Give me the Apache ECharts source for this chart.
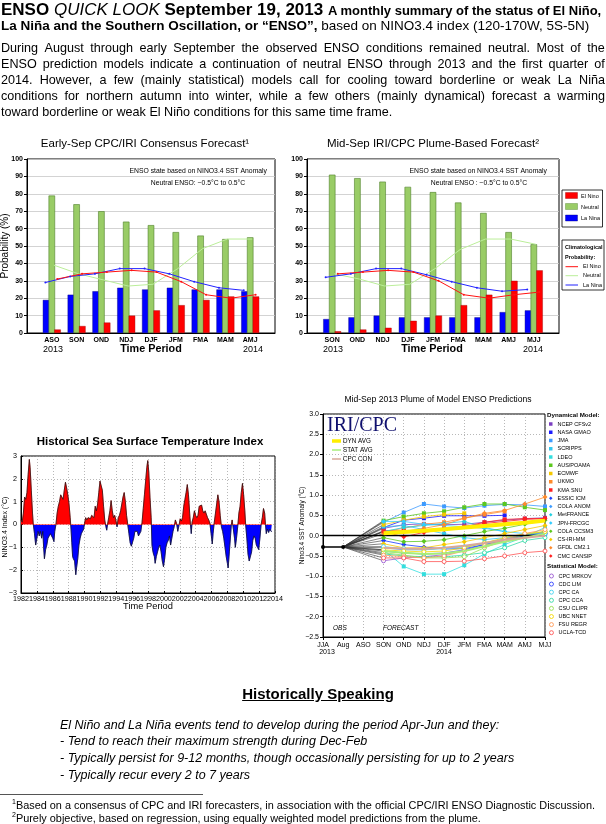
<!DOCTYPE html>
<html><head><meta charset="utf-8"><title>ENSO Quick Look</title>
<script src="https://cdn.jsdelivr.net/npm/echarts@6/dist/echarts.min.js"></script>
<style>
html,body{margin:0;padding:0;background:#fff;}
body{width:606px;height:824px;position:relative;overflow:hidden;font-family:"Liberation Sans",Arial,Helvetica,sans-serif;color:#000;}
#chart{position:absolute;left:0;top:0;width:606px;height:824px;}
.t{position:absolute;white-space:nowrap;z-index:2;}
.it{position:absolute;left:60px;font-size:12.5px;font-style:italic;line-height:16px;white-space:nowrap;z-index:2;}
.jl{position:absolute;left:1px;width:604px;height:16px;line-height:16px;font-size:12.6px;display:flex;justify-content:space-between;white-space:nowrap;z-index:2;}
.jl.last{justify-content:flex-start;}
</style></head>
<body>
<div id="chart"></div>
<div class="t" style="left:1px;top:0px;font-size:17px;line-height:19px;"><b>ENSO</b> <i>QUICK LOOK</i> <b>September 19, 2013</b> <b style="font-size:13px;">A monthly summary of the status of El Niño,</b></div>
<div class="t" style="left:1px;top:18px;font-size:13.5px;line-height:16px;"><b>La Niña and the Southern Oscillation, or “ENSO”,</b> based on NINO3.4 index (120-170W, 5S-5N)</div>
<div id="para"></div>
<div class="t" style="left:0;width:636px;text-align:center;top:685px;font-size:15px;font-weight:bold;text-decoration:underline;">Historically Speaking</div>
<div class="it" style="top:717px;">El Niño and La Niña events tend to develop during the period Apr-Jun and they:</div>
<div class="it" style="top:733px;">- Tend to reach their maximum strength during Dec-Feb</div>
<div class="it" style="top:750px;">- Typically persist for 9-12 months, though occasionally persisting for up to 2 years</div>
<div class="it" style="top:767px;">- Typically recur every 2 to 7 years</div>
<div class="t" style="left:0;top:794px;width:203px;height:0;border-top:1px solid #555;"></div>
<div class="t" style="left:12px;top:795px;font-size:10.9px;line-height:13px;"><sup style="font-size:7px;">1</sup>Based on a consensus of CPC and IRI forecasters, in association with the official CPC/IRI ENSO Diagnostic Discussion.</div>
<div class="t" style="left:12px;top:808px;font-size:10.9px;line-height:13px;"><sup style="font-size:7px;">2</sup>Purely objective, based on regression, using equally weighted model predictions from the plume.</div>
<script>
// ---------------- DATA ----------------
const paraLines = [
  "During August through early September the observed ENSO conditions remained neutral.  Most of the",
  "ENSO prediction models indicate a continuation of neutral ENSO through 2013 and the first quarter of",
  "2014.  However, a few (mainly statistical) models call for cooling toward borderline or weak La Niña",
  "conditions for northern autumn into winter, while a few others (mainly dynamical) forecast a warming",
  "toward borderline or weak El Niño conditions for this same time frame."
];

// Early-Sep CPC/IRI consensus forecast (probability, %)
const consCats = ['ASO','SON','OND','NDJ','DJF','JFM','FMA','MAM','AMJ'];
const consLaNina = [19,22,24,26,25,26,25,25,24];
const consNeutral = [79,74,70,64,62,58,56,54,55];
const consElNino = [2,4,6,10,13,16,19,21,21];
const consClimElNino = [31,34,35,36,35,29.5,22,20,22];
const consClimNeutral = [39,34,30.5,27,28,37,48.5,54,54];
const consClimLaNina = [29,32.5,34,37,37,34,29.5,26,24.5];

// Mid-Sep IRI/CPC plume-based forecast (probability, %)
const plumeCats = ['SON','OND','NDJ','DJF','JFM','FMA','MAM','AMJ','MJJ'];
const plumeLaNina = [8,9,10,9,9,9,9,12,13];
const plumeNeutral = [91,89,87,84,81,75,69,58,51];
const plumeElNino = [1,2,3,7,10,16,22,30,36];
const plumeClimElNino = [34,35,36,35,30,22,20,22,23.5];
const plumeClimNeutral = [34,31,27,28,37,48,54,54,51];
const plumeClimLaNina = [32,34,37,37,33.5,29.5,26,24,25];

// Historical NINO3.4 index (decimal year, anomaly degC)
const sstTime = [1982.0,1982.15,1982.3,1982.45,1982.6,1982.75,1982.9,1983.05,1983.15,1983.3,1983.45,1983.55,1983.7,1983.85,1984.0,1984.15,1984.3,1984.45,1984.6,1984.75,1984.85,1984.95,1985.1,1985.25,1985.4,1985.55,1985.7,1985.85,1986.0,1986.15,1986.25,1986.4,1986.55,1986.7,1986.85,1987.0,1987.15,1987.3,1987.45,1987.6,1987.75,1987.9,1988.05,1988.2,1988.3,1988.4,1988.5,1988.6,1988.75,1988.9,1989.0,1989.15,1989.3,1989.45,1989.6,1989.75,1989.9,1990.0,1990.15,1990.3,1990.45,1990.6,1990.75,1990.9,1991.05,1991.2,1991.35,1991.5,1991.65,1991.8,1991.95,1992.1,1992.25,1992.4,1992.55,1992.7,1992.8,1992.9,1993.05,1993.2,1993.35,1993.5,1993.65,1993.8,1993.95,1994.1,1994.25,1994.4,1994.55,1994.7,1994.85,1995.0,1995.15,1995.3,1995.45,1995.6,1995.75,1995.9,1996.05,1996.2,1996.35,1996.5,1996.65,1996.8,1996.95,1997.1,1997.25,1997.4,1997.55,1997.7,1997.85,1997.97,1998.1,1998.25,1998.4,1998.5,1998.6,1998.7,1998.8,1998.9,1999.05,1999.2,1999.35,1999.5,1999.65,1999.8,1999.95,2000.1,2000.25,2000.4,2000.55,2000.7,2000.85,2001.0,2001.15,2001.3,2001.45,2001.6,2001.75,2001.9,2002.05,2002.2,2002.35,2002.5,2002.65,2002.8,2002.95,2003.1,2003.25,2003.35,2003.45,2003.55,2003.7,2003.85,2004.0,2004.15,2004.3,2004.45,2004.6,2004.75,2004.9,2005.05,2005.2,2005.35,2005.5,2005.65,2005.8,2005.95,2006.1,2006.2,2006.35,2006.5,2006.65,2006.8,2006.95,2007.1,2007.25,2007.4,2007.55,2007.7,2007.85,2008.0,2008.1,2008.25,2008.4,2008.5,2008.6,2008.75,2008.9,2009.0,2009.15,2009.3,2009.45,2009.6,2009.75,2009.9,2010.05,2010.2,2010.3,2010.45,2010.6,2010.75,2010.9,2011.05,2011.2,2011.35,2011.5,2011.65,2011.8,2011.95,2012.1,2012.25,2012.4,2012.55,2012.7,2012.8,2012.9,2013.05,2013.2,2013.35,2013.5,2013.6];
const sstAnom = [0.2,0.1,0.5,1.2,1.1,1.4,2.2,2.85,2.5,1.5,0.5,0.0,-0.4,-0.9,-0.9,-0.3,-0.5,-0.3,-0.6,-0.3,-1.0,-1.5,-1.1,-0.9,-0.6,-0.5,-0.4,-0.45,-0.6,-0.75,-0.3,0.0,0.5,0.8,1.0,1.3,1.35,1.1,1.5,1.85,1.6,1.3,0.9,0.3,-0.2,-0.8,-1.4,-1.5,-1.6,-2.2,-1.9,-1.5,-0.9,-0.6,-0.4,-0.3,-0.2,0.05,0.3,0.2,0.3,0.35,0.25,0.4,0.45,0.3,0.8,0.6,0.9,1.4,1.9,1.95,1.5,0.8,0.2,-0.1,-0.25,0.0,0.3,0.6,1.05,0.6,0.3,0.4,0.2,-0.1,0.3,0.4,0.6,0.9,1.2,1.4,1.0,0.4,0.0,-0.4,-0.8,-0.95,-0.9,-0.6,-0.3,-0.35,-0.3,-0.5,-0.55,-0.3,0.1,0.7,1.3,1.9,2.5,2.8,2.3,1.2,0.3,-0.9,-1.15,-1.3,-1.4,-1.7,-1.4,-1.2,-1.0,-0.9,-1.2,-1.6,-1.85,-1.5,-1.0,-0.8,-0.7,-0.5,-0.9,-0.6,-0.3,-0.1,0.2,0.05,-0.3,-0.05,0.25,0.15,0.3,0.8,1.1,1.4,1.75,1.3,0.5,0.0,-0.4,0.1,0.3,0.6,0.4,0.3,0.4,0.8,0.85,0.85,0.6,0.5,0.6,0.55,0.3,0.2,0.05,-0.4,-0.85,-0.4,0.1,0.5,0.9,1.3,1.0,0.4,-0.1,-0.3,-0.6,-1.0,-1.4,-1.7,-1.9,-1.2,-0.5,0.0,0.2,-0.2,-0.6,-1.0,-0.6,-0.1,0.5,0.8,1.4,1.8,1.3,0.6,0.0,-0.6,-1.3,-1.6,-1.65,-1.2,-0.7,-0.5,-0.6,-0.9,-1.0,-1.1,-0.6,0.0,0.3,0.7,0.5,0.0,-0.4,-0.2,-0.35,-0.2,-0.3,-0.3];

// Plume of model predictions (NINO3.4 anomaly, degC)
const plumeMonths = ['JJA','Aug','ASO','SON','OND','NDJ','DJF','JFM','FMA','MAM','AMJ','MJJ'];
const obsJJA_Aug = [-0.28,-0.28];
const NCEP_CFSv2 = [0.18,0.27,0.29,0.27,0.28,0.33,0.38,0.42,0.44];
const NASA_GMAO = [0.2,0.38,0.43,0.49,0.49,0.49,0.5,null,null];
const JMA = [0.33,0.57,0.78,0.72,0.68,0.74,0.77,0.76,0.72];
const SCRIPPS = [0.22,0.25,0.15,0.05,-0.05,-0.1,-0.05,0.0,0.05];
const LDEO = [-0.35,-0.76,-0.95,-0.95,-0.73,-0.45,-0.22,-0.03,0.2];
const AUS_POAMA = [0.37,0.47,0.55,0.6,0.7,0.78,0.78,0.7,0.63];
const ECMWF = [0.27,0.38,0.47,0.52,0.55,null,null,null,null];
const UKMO = [0.1,0.18,0.28,0.33,0.43,0.52,0.6,null,null];
const KMA_SNU = [0.12,0.12,0.12,0.17,0.22,0.33,0.4,0.42,0.42];
const ESSIC_ICM = [-0.12,-0.22,-0.28,-0.33,-0.32,-0.22,-0.1,0.0,0.1];
const COLA_ANOM = [-0.3,-0.35,-0.35,-0.3,-0.27,-0.18,-0.08,0.02,0.08];
const MetFRANCE = [0.1,0.2,0.25,0.3,0.35,0.2,0.1,null,null];
const JPN_FRCGC = [0.35,0.35,0.28,0.25,0.22,0.18,0.1,0.05,0.0];
const COLA_CCSM3 = [-0.05,-0.15,-0.14,-0.1,0.0,0.1,0.18,0.28,0.38];
const CS_IRI_MM = [-0.2,-0.3,-0.3,-0.22,-0.15,-0.05,0.05,0.15,0.25];
const GFDL_CM21 = [0.05,0.1,0.18,0.27,0.43,0.55,0.62,0.78,0.95];
const CMC_CANSIP = [0.1,-0.03,0.08,0.15,0.22,0.3,0.35,0.4,0.42];
const CPC_MRKOV = [-0.62,-0.55,-0.52,-0.47,-0.37,-0.25,-0.13,-0.03,0.05];
const CDC_LIM = [-0.38,-0.43,-0.45,-0.43,-0.35,-0.22,-0.1,0.0,0.05];
const CPC_CA = [-0.27,-0.32,-0.35,-0.32,-0.28,-0.2,-0.12,-0.03,0.05];
const CPC_CCA = [-0.45,-0.5,-0.52,-0.52,-0.48,-0.42,-0.3,-0.12,-0.05];
const CSU_CLIPR = [-0.42,-0.48,-0.55,-0.55,-0.52,-0.3,-0.12,0.02,0.1];
const UBC_NNET = [-0.35,-0.38,-0.4,-0.38,-0.3,-0.18,-0.05,0.05,0.1];
const FSU_REGR = [-0.48,-0.52,-0.55,-0.5,-0.38,-0.25,-0.1,0.05,0.15];
const UCLA_TCD = [-0.55,-0.55,-0.64,-0.64,-0.63,-0.57,-0.5,-0.42,-0.38];
const DYN_AVG = [0.06,0.09,0.12,0.16,0.2,0.24,0.28,0.32,0.37];
const STAT_AVG = [-0.38,-0.42,-0.45,-0.44,-0.38,-0.26,-0.15,-0.05,0.05];
const CPC_CON = [-0.3,-0.32,-0.33,-0.3,-0.25,-0.18,-0.1,-0.05,0.0];

const dynNames = ['NCEP CFSv2','NASA GMAO','JMA','SCRIPPS','LDEO','AUS/POAMA','ECMWF','UKMO','KMA SNU','ESSIC ICM','COLA ANOM','MetFRANCE','JPN-FRCGC','COLA CCSM3','CS-IRI-MM','GFDL CM2.1','CMC CANSIP'];
const dynValues = [NCEP_CFSv2,NASA_GMAO,JMA,SCRIPPS,LDEO,AUS_POAMA,ECMWF,UKMO,KMA_SNU,ESSIC_ICM,COLA_ANOM,MetFRANCE,JPN_FRCGC,COLA_CCSM3,CS_IRI_MM,GFDL_CM21,CMC_CANSIP];
const statNames = ['CPC MRKOV','CDC LIM','CPC CA','CPC CCA','CSU CLIPR','UBC NNET','FSU REGR','UCLA-TCD'];
const statValues = [CPC_MRKOV,CDC_LIM,CPC_CA,CPC_CCA,CSU_CLIPR,UBC_NNET,FSU_REGR,UCLA_TCD];

// ---------------- STYLES ----------------
const dynColors = ['#7b3fc0','#1c1cff','#3d9bff','#33c8f0','#33dede','#5cc81e','#f5c800','#ff8a2a','#ff1f1f','#1a3cff','#3d9bff','#22d0e0','#33ccff','#5cc81e','#f5c800','#ff8a2a','#ff1f1f'];
const statColors = ['#9b59d0','#3344ff','#44d4f0','#33d9a6','#99e055','#f5d800','#ff9955','#ff5555'];
const F = 'Liberation Sans, Arial, sans-serif';

// paragraph (justified lines)
(function(){
  const host = document.getElementById('para');
  paraLines.forEach((line, i) => {
    const d = document.createElement('div');
    d.className = 'jl' + (i === paraLines.length - 1 ? ' last' : '');
    d.style.top = (40 + i * 16) + 'px';
    if (i === paraLines.length - 1) { d.textContent = line; }
    else {
      line.split(/\s+/).forEach(w => { const s = document.createElement('span'); s.textContent = w; d.appendChild(s); });
    }
    host.appendChild(d);
  });
})();

function T(x, y, text, o) {
  o = o || {};
  return { type:'text', x:x, y:y, rotation:o.rot||0, silent:true, z:100, style:{ text:text, fill:o.color||'#000', fontSize:o.size||8, fontFamily:o.family||F, fontWeight:o.weight||'normal', fontStyle:o.style||'normal', align:o.align||'left', verticalAlign:'middle' } };
}
function L(x1,y1,x2,y2,c,w){ return {type:'line', silent:true, z:100, shape:{x1:x1,y1:y1,x2:x2,y2:y2}, style:{stroke:c, lineWidth:w}}; }
function R(x,y,w,h,fill,stroke,lw){ return {type:'rect', silent:true, z:100, shape:{x:x,y:y,width:w,height:h}, style:{fill:fill, stroke:stroke||null, lineWidth:lw||0}}; }

const gridBase = {show:true, borderColor:'#000', borderWidth:1, backgroundColor:'transparent', containLabel:false, outerBoundsMode:'none'};

function probCatAxis(gi, cats){
  return {type:'category', gridIndex:gi, data:[''].concat(cats).concat(['']), boundaryGap:false,
    axisLine:{onZero:false, lineStyle:{color:'#000', width:1}}, axisTick:{show:false},
    axisLabel:{fontSize:7, fontWeight:'bold', color:'#000', margin:4, interval:0, fontFamily:F}, splitLine:{show:false}};
}
function probValAxisX(gi){ return {type:'value', gridIndex:gi, min:-1, max:9, show:false, axisLine:{onZero:false}}; }
function probYAxis(gi){
  return {type:'value', gridIndex:gi, min:0, max:100, interval:10,
    axisLine:{show:true, onZero:false, lineStyle:{color:'#000'}}, axisTick:{show:true, length:3, lineStyle:{color:'#000'}},
    axisLabel:{fontSize:7, fontWeight:'bold', color:'#000', margin:4, fontFamily:F},
    splitLine:{show:true, lineStyle:{color:'#c8c8c8', width:0.8}}};
}
function probSeries(xc, xv, yi, laNina, neutral, elNino, climE, climN, climL){
  const bw = 6.5, gap = '-12%';
  return [
    {type:'bar', xAxisIndex:xc, yAxisIndex:yi, data:laNina.map((v,i)=>[i+1,v]), barWidth:bw, barGap:gap, itemStyle:{color:'#0000ff', borderColor:'#00007a', borderWidth:0.4}, z:2},
    {type:'bar', xAxisIndex:xc, yAxisIndex:yi, data:neutral.map((v,i)=>[i+1,v]), barWidth:bw, barGap:gap, itemStyle:{color:'#99cc66', borderColor:'#4f7f2a', borderWidth:0.6}, z:2},
    {type:'bar', xAxisIndex:xc, yAxisIndex:yi, data:elNino.map((v,i)=>[i+1,v]), barWidth:bw, barGap:gap, itemStyle:{color:'#ff0000', borderColor:'#990000', borderWidth:0.4}, z:3},
    {type:'line', xAxisIndex:xv, yAxisIndex:yi, data:climN.map((v,i)=>[i+0.08,v]), symbol:'none', lineStyle:{color:'#bbee99', width:1}, z:4},
    {type:'line', xAxisIndex:xv, yAxisIndex:yi, data:climL.map((v,i)=>[i-0.26,v]), symbol:'circle', symbolSize:2, lineStyle:{color:'#2222ff', width:1}, itemStyle:{color:'#2222ff'}, z:5},
    {type:'line', xAxisIndex:xv, yAxisIndex:yi, data:climE.map((v,i)=>[i+0.22,v]), symbol:'circle', symbolSize:2, lineStyle:{color:'#ff1111', width:1}, itemStyle:{color:'#ff1111'}, z:5}
  ];
}

const series = [];
series.push(...probSeries(0, 1, 0, consLaNina, consNeutral, consElNino, consClimElNino, consClimNeutral, consClimLaNina));
series.push(...probSeries(2, 3, 1, plumeLaNina, plumeNeutral, plumeElNino, plumeClimElNino, plumeClimNeutral, plumeClimLaNina));

// SST history
const sstData = sstTime.map((t,i)=>[t, sstAnom[i]]);
const sstIdx = series.length;
series.push({type:'line', xAxisIndex:4, yAxisIndex:2, data:sstData, showSymbol:false, symbol:'none', lineStyle:{width:0.5}, areaStyle:{opacity:1}, z:2});
series.push({type:'line', xAxisIndex:4, yAxisIndex:2, data:sstData, showSymbol:false, symbol:'none', lineStyle:{width:0.7, color:'#111'}, z:3});

// Plume
const pad3 = arr => [null,null,null].concat(arr);
dynValues.concat(statValues).forEach(v => {
  series.push({type:'line', xAxisIndex:5, yAxisIndex:3, data:[null, obsJJA_Aug[1], null, v[0]], connectNulls:true, symbol:'none', lineStyle:{color:'#333', width:0.6}, z:2});
});
dynValues.forEach((v,i) => {
  const c = dynColors[i];
  series.push({type:'line', name:dynNames[i], xAxisIndex:5, yAxisIndex:3, data:pad3(v), symbol: i < 9 ? 'rect' : 'diamond', symbolSize: i < 9 ? 4 : 5, lineStyle:{color:c, width:0.8}, itemStyle:{color:c}, z:4});
});
statValues.forEach((v,i) => {
  const c = statColors[i];
  series.push({type:'line', name:statNames[i], xAxisIndex:5, yAxisIndex:3, data:pad3(v), symbol:'circle', symbolSize:4, lineStyle:{color:c, width:0.8}, itemStyle:{color:'#fff', borderColor:c, borderWidth:0.9}, z:4});
});
series.push({type:'line', name:'DYN AVG', xAxisIndex:5, yAxisIndex:3, data:pad3(DYN_AVG), symbol:'none', lineStyle:{color:'#ffee00', width:4}, z:6});
series.push({type:'line', name:'STAT AVG', xAxisIndex:5, yAxisIndex:3, data:pad3(STAT_AVG), symbol:'none', lineStyle:{color:'#a6ee7a', width:2}, z:6});
series.push({type:'line', name:'CPC CON', xAxisIndex:5, yAxisIndex:3, data:pad3(CPC_CON), symbol:'none', lineStyle:{color:'#d9a898', width:2}, z:6});
series.push({type:'line', xAxisIndex:5, yAxisIndex:3, data:obsJJA_Aug, symbol:'circle', symbolSize:4, lineStyle:{color:'#000', width:1.5}, itemStyle:{color:'#000'}, z:7,
  markLine:{silent:true, symbol:'none', label:{show:false}, lineStyle:{color:'#000', width:1.3, type:'solid'}, data:[{yAxis:0}]}});

const minus = v => (v < 0 ? '\u2212' + Math.abs(v) : String(v));
const ROT = Math.PI / 2;

const graphics = [
  // top-left
  T(145, 144, 'Early-Sep CPC/IRI Consensus Forecast\u00b9', {size:11.5, align:'center'}),
  T(267, 171, 'ENSO state based on NINO3.4 SST Anomaly', {size:6.8, align:'right'}),
  T(198, 183.5, 'Neutral ENSO: \u22120.5\u00b0C to 0.5\u00b0C', {size:6.8, align:'center'}),
  T(53, 349.5, '2013', {size:9, align:'center'}),
  T(253, 349.5, '2014', {size:9, align:'center'}),
  T(151, 349.5, 'Time Period', {size:10.8, weight:'bold', align:'center'}),
  T(5.5, 246, 'Probability (%)', {size:10, align:'center', rot:ROT}),
  // top-right
  T(433, 144, 'Mid-Sep IRI/CPC Plume-Based Forecast\u00b2', {size:11.5, align:'center'}),
  T(547, 171, 'ENSO state based on NINO3.4 SST Anomaly', {size:6.8, align:'right'}),
  T(479, 183.5, 'Neutral ENSO : \u22120.5\u00b0C to 0.5\u00b0C', {size:6.8, align:'center'}),
  T(333, 349.5, '2013', {size:9, align:'center'}),
  T(533, 349.5, '2014', {size:9, align:'center'}),
  T(432, 349.5, 'Time Period', {size:10.8, weight:'bold', align:'center'}),
  // right legend boxes
  R(562, 190, 40.5, 37, '#fff', '#000', 0.8),
  R(565.5, 192.5, 12, 6, '#ff0000', '#900', 0.4), T(581, 196, 'El Nino', {size:5.5}),
  R(565.5, 203.5, 12, 6, '#99cc66', '#4f7f2a', 0.4), T(581, 207, 'Neutral', {size:5.5}),
  R(565.5, 215, 12, 6, '#0000ff', '#00007a', 0.4), T(581, 218.5, 'La Nina', {size:5.5}),
  R(562, 240, 42, 50, '#fff', '#000', 0.8),
  T(565, 247.5, 'Climatological', {size:5.5, weight:'bold'}),
  T(565, 257.5, 'Probability:', {size:5.5, weight:'bold'}),
  L(565.5, 266.7, 578, 266.7, '#ff1111', 1), T(583, 266.7, 'El Nino', {size:5.5}),
  L(565.5, 275.7, 578, 275.7, '#bbee99', 1), T(583, 275.7, 'Neutral', {size:5.5}),
  L(565.5, 285, 578, 285, '#2222ff', 1), T(583, 285, 'La Nina', {size:5.5}),
  // SST
  T(150, 441.5, 'Historical Sea Surface Temperature Index', {size:11.5, weight:'bold', align:'center'}),
  T(148, 606, 'Time Period', {size:9.3, align:'center'}),
  T(5.5, 527, 'NINO3.4 Index (\u00b0C)', {size:7, align:'center', rot:ROT}),
  // plume
  T(438, 400, 'Mid-Sep 2013 Plume of Model ENSO Predictions', {size:8.6, align:'center'}),
  T(302.5, 525.5, 'Nino3.4 SST Anomaly (\u00b0C)', {size:6.5, align:'center', rot:ROT}),
  T(327, 426, 'IRI/CPC', {size:20, family:'Liberation Serif, Times New Roman, serif', color:'#10106e'}),
  L(332, 441, 341, 441, '#ffee00', 3.5), T(343, 441, 'DYN AVG', {size:6.3}),
  L(332, 450, 341, 450, '#a6ee7a', 1.5), T(343, 450, 'STAT AVG', {size:6.3}),
  L(332, 459, 341, 459, '#d9a898', 1.5), T(343, 459, 'CPC CON', {size:6.3}),
  T(333, 628, 'OBS', {size:6.5, style:'italic'}),
  T(383, 628, 'FORECAST', {size:6.5, style:'italic'}),
  T(327, 652, '2013', {size:7, align:'center'}),
  T(444, 652, '2014', {size:7, align:'center'}),
  T(547, 415, 'Dynamical Model:', {size:6.2, weight:'bold'}),
  T(547, 566, 'Statistical Model:', {size:6.2, weight:'bold'})
];

const option = {
  animation:false,
  textStyle:{fontFamily:F},
  grid:[
    Object.assign({left:27, top:159, width:248, height:174}, gridBase),
    Object.assign({left:307, top:159, width:252, height:174}, gridBase),
    Object.assign({left:21, top:456, width:254, height:137}, gridBase),
    Object.assign({left:323, top:414, width:222, height:223}, gridBase)
  ],
  xAxis:[
    probCatAxis(0, consCats), probValAxisX(0),
    probCatAxis(1, plumeCats), probValAxisX(1),
    {type:'value', gridIndex:2, min:1982, max:2014, interval:2,
      axisLine:{onZero:false, lineStyle:{color:'#000'}}, axisTick:{show:true, length:2, inside:true, lineStyle:{color:'#000'}},
      axisLabel:{fontSize:7.2, color:'#000', margin:3, formatter:v=>String(v), fontFamily:F},
      splitLine:{show:true, lineStyle:{color:'#9a9a9a', type:[1,2], width:0.7}}},
    {type:'category', gridIndex:3, data:plumeMonths, boundaryGap:false,
      axisLine:{onZero:false, lineStyle:{color:'#000'}}, axisTick:{show:true, length:3, lineStyle:{color:'#000'}},
      axisLabel:{fontSize:7, color:'#000', margin:5, interval:0, fontFamily:F},
      splitLine:{show:true, lineStyle:{color:'#9a9a9a', type:[1,2], width:0.7}}}
  ],
  yAxis:[
    probYAxis(0),
    probYAxis(1),
    {type:'value', gridIndex:2, min:-3, max:3, interval:1,
      axisLine:{show:true, onZero:false, lineStyle:{color:'#000'}}, axisTick:{show:true, length:2, inside:true, lineStyle:{color:'#000'}},
      axisLabel:{fontSize:7.2, color:'#000', margin:4, formatter:minus, fontFamily:F},
      splitLine:{show:true, lineStyle:{color:'#9a9a9a', type:[1,2], width:0.7}}},
    {type:'value', gridIndex:3, min:-2.5, max:3, interval:0.5,
      axisLine:{show:true, onZero:false, lineStyle:{color:'#000'}}, axisTick:{show:true, length:3, lineStyle:{color:'#000'}},
      axisLabel:{fontSize:7, color:'#000', margin:4, formatter:v=>(v<0?'\u2212'+Math.abs(v).toFixed(1):v.toFixed(1)), fontFamily:F},
      splitLine:{show:true, lineStyle:{color:'#9a9a9a', type:[1,2], width:0.7}}}
  ],
  visualMap:[{type:'piecewise', show:false, seriesIndex:sstIdx, dimension:1,
    pieces:[{gt:0, lte:5, color:'#ff0000'}, {gte:-5, lte:0, color:'#0000ff'}], outOfRange:{color:'#999'}}],
  legend:[
    {orient:'vertical', left:549, top:421, itemWidth:3.5, itemHeight:3.5, itemGap:2.25, padding:0, selectedMode:false,
      textStyle:{fontSize:5.5, lineHeight:6, color:'#000', fontFamily:F},
      data:dynNames.map((n,i)=>({name:n, icon: i < 9 ? 'rect' : 'diamond'}))},
    {orient:'vertical', left:549, top:573, itemWidth:4, itemHeight:4, itemGap:2.1, padding:0, selectedMode:false,
      textStyle:{fontSize:5.5, lineHeight:6, color:'#000', fontFamily:F},
      data:statNames.map((n,i)=>({name:n, icon:'circle', itemStyle:{color:'#fff', borderColor:statColors[i], borderWidth:0.9}}))}
  ],
  graphic:{elements:graphics},
  series:series
};

const chart = echarts.init(document.getElementById('chart'), null, {renderer:'canvas'});
chart.setOption(option);
</script>
</body></html>
